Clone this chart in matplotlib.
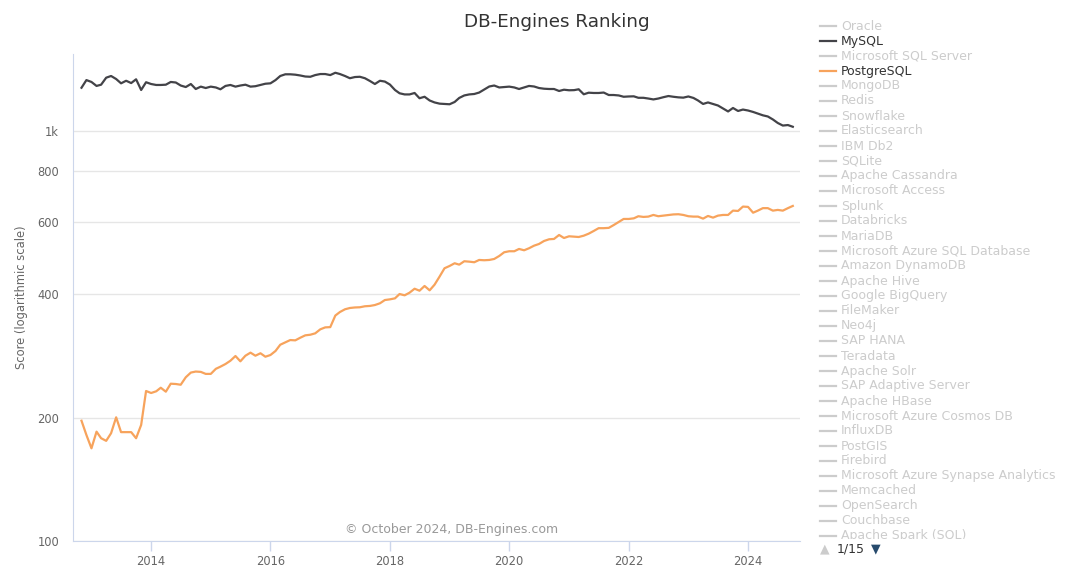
import matplotlib
matplotlib.use("Agg")
import matplotlib.pyplot as plt
import matplotlib.dates as mdates
from matplotlib.lines import Line2D
from matplotlib.transforms import Bbox
import pandas as pd
import datetime as dt

plt.rcParams['font.family'] = ['DejaVu Sans']

# ---------------- data ----------------
months = pd.date_range("2012-11-01", "2024-10-01", freq="MS")

mysql = [
    1275, 1331, 1317, 1288, 1297, 1349, 1362, 1339, 1307, 1326, 1309, 1337,
    1259, 1315, 1302, 1295, 1295, 1297, 1317, 1313, 1291, 1280, 1302, 1266,
    1283, 1273, 1283, 1277, 1264, 1288, 1295, 1283, 1291, 1297, 1283, 1286,
    1295, 1304, 1307, 1331, 1362, 1375, 1375, 1372, 1366, 1358, 1356, 1369,
    1377, 1377, 1369, 1387, 1377, 1362, 1345, 1354, 1356, 1345, 1324, 1302,
    1326, 1320, 1298, 1259, 1236, 1228, 1228, 1238, 1202, 1212, 1187, 1174,
    1166, 1164, 1162, 1177, 1204, 1221, 1228, 1231, 1241, 1262, 1284, 1291,
    1277, 1280, 1283, 1277, 1266, 1277, 1288, 1284, 1273, 1268, 1266, 1266,
    1252, 1261, 1257, 1258, 1264, 1229, 1240, 1238, 1238, 1241, 1224, 1224,
    1221, 1212, 1214, 1215, 1205, 1205, 1200, 1194, 1200, 1209, 1217, 1212,
    1208, 1206, 1214, 1204, 1187, 1164, 1174, 1164, 1154, 1135, 1116, 1138,
    1119, 1128, 1122, 1113, 1103, 1092, 1085, 1067, 1046, 1031, 1034, 1024,
]

postgresql = [
    196.5, 181.4, 168.3, 184.8, 178.1, 175.5, 183.2, 200.3, 184.3, 184.3, 184.3, 178.1,
    191.9, 232.2, 229.6, 231.8, 236.5, 231.3, 241.9, 241.5, 240.5, 250.8, 257.5, 259.0,
    258.5, 255.6, 255.6, 263.0, 266.2, 270.2, 275.2, 282.6, 274.3, 283.1, 288.0, 283.1,
    287.0, 281.5, 284.2, 290.7, 301.1, 305.2, 309.1, 308.6, 313.1, 317.4, 318.5, 321.0,
    328.3, 331.9, 332.4, 354.7, 361.8, 367.4, 370.1, 371.2, 371.6, 373.7, 374.4, 376.3,
    380.0, 387.0, 388.5, 390.7, 400.3, 397.4, 403.3, 412.4, 407.8, 418.8, 408.7, 421.8,
    441.6, 462.6, 468.6, 475.8, 472.1, 481.2, 480.1, 478.5, 484.7, 483.9, 484.7, 487.4,
    495.7, 506.1, 509.0, 509.0, 515.6, 511.8, 517.6, 525.2, 530.2, 539.2, 544.4, 545.4,
    557.7, 548.3, 553.6, 552.4, 551.4, 555.5, 561.8, 570.4, 579.4, 579.4, 580.4, 589.6,
    600.0, 610.2, 610.2, 612.3, 619.6, 617.2, 618.3, 624.1, 619.6, 621.7, 624.1, 625.9,
    626.6, 624.1, 619.6, 618.3, 618.3, 611.3, 620.6, 614.8, 621.7, 624.1, 624.1, 639.4,
    638.3, 654.1, 653.0, 632.0, 639.4, 648.4, 648.4, 639.4, 642.0, 639.4, 648.4, 656.5,
]

ytick_values = [100, 200, 400, 600, 800, 1000]
ytick_labels = ["100", "200", "400", "600", "800", "1k"]
xtick_years = [2014, 2016, 2018, 2020, 2022, 2024]

legend_items = [
    "Oracle", "MySQL", "Microsoft SQL Server", "PostgreSQL", "MongoDB", "Redis",
    "Snowflake", "Elasticsearch", "IBM Db2", "SQLite", "Apache Cassandra",
    "Microsoft Access", "Splunk", "Databricks", "MariaDB",
    "Microsoft Azure SQL Database", "Amazon DynamoDB", "Apache Hive",
    "Google BigQuery", "FileMaker", "Neo4j", "SAP HANA", "Teradata",
    "Apache Solr", "SAP Adaptive Server", "Apache HBase",
    "Microsoft Azure Cosmos DB", "InfluxDB", "PostGIS", "Firebird",
    "Microsoft Azure Synapse Analytics", "Memcached", "OpenSearch",
    "Couchbase", "Apache Spark (SQL)",
]
visible_series = {"MySQL": "#434348", "PostgreSQL": "#f7a35c"}

# ---------------- figure ----------------
W, H = 1080, 568
fig = plt.figure(figsize=(W / 100, H / 100), dpi=100)
fig.patch.set_facecolor("white")

def px(x, y):
    return x / W, 1 - y / H

ax_l, ax_r, ax_t, ax_b = 73, 800, 54, 541
ax = fig.add_axes([ax_l / W, 1 - ax_b / H, (ax_r - ax_l) / W, (ax_b - ax_t) / H])

ax.plot(months, mysql, color="#434348", lw=1.6, solid_joinstyle="round", zorder=3)
ax.plot(months, postgresql, color="#f7a35c", lw=1.6, solid_joinstyle="round", zorder=3)

ax.set_yscale("log")
ax.set_ylim(100, 1541)
ax.set_xlim(dt.datetime(2012, 9, 10), dt.datetime(2024, 11, 14))

ax.yaxis.set_major_locator(matplotlib.ticker.FixedLocator(ytick_values))
ax.yaxis.set_major_formatter(matplotlib.ticker.FixedFormatter(ytick_labels))
ax.yaxis.set_minor_locator(matplotlib.ticker.NullLocator())
ax.grid(axis="y", color="#e6e6e6", lw=1)
ax.tick_params(axis="y", length=0, pad=10, labelsize=8.3, labelcolor="#666666")

ax.xaxis.set_major_locator(matplotlib.ticker.FixedLocator(
    [mdates.date2num(dt.datetime(y, 1, 1)) for y in xtick_years]))
ax.xaxis.set_major_formatter(matplotlib.ticker.FixedFormatter([str(y) for y in xtick_years]))
ax.tick_params(axis="x", length=7, width=1, color="#ccd6eb", pad=3,
               labelsize=8.3, labelcolor="#666666")

for s in ["top", "right"]:
    ax.spines[s].set_visible(False)
ax.spines["left"].set_color("#ccd6eb")
ax.spines["bottom"].set_color("#ccd6eb")
ax.set_axisbelow(True)

ax.set_ylabel("Score (logarithmic scale)", fontsize=8.3, color="#666666")
ax.yaxis.set_label_coords(-0.062, 0.5)

# title and credits
fig.text(*px(557, 22), "DB-Engines Ranking", ha="center", va="center",
         fontsize=13.2, color="#333333")
fig.text(*px(452, 529), "\u00a9 October 2024, DB-Engines.com", ha="center",
         va="center", fontsize=9, color="#999999")

# legend (manual)
clip = Bbox.from_extents(0, 1 - 539 / H, 1, 1)
clip_disp = fig.transFigure.transform_bbox(clip)
for i, name in enumerate(legend_items):
    y = 26 + 15 * i
    col = visible_series.get(name, "#cccccc")
    tcol = "#333333" if name in visible_series else "#cccccc"
    ln = Line2D([820 / W, 836 / W], [1 - y / H, 1 - y / H], transform=fig.transFigure,
                color=col, lw=1.6)
    ln.set_clip_box(clip_disp)
    fig.add_artist(ln)
    t = fig.text(841 / W, 1 - y / H, name, ha="left", va="center", fontsize=9.0,
                 color=tcol)
    t.set_clip_box(clip_disp)
    t.set_clip_on(True)

# pagination
fig.text(*px(825, 549), "\u25b2", ha="center", va="center", fontsize=9, color="#cccccc")
fig.text(*px(851, 549), "1/15", ha="center", va="center", fontsize=9, color="#333333")
fig.text(*px(876, 549), "\u25bc", ha="center", va="center", fontsize=9, color="#274b6d")

fig.savefig("out.png", dpi=100, facecolor="white")
